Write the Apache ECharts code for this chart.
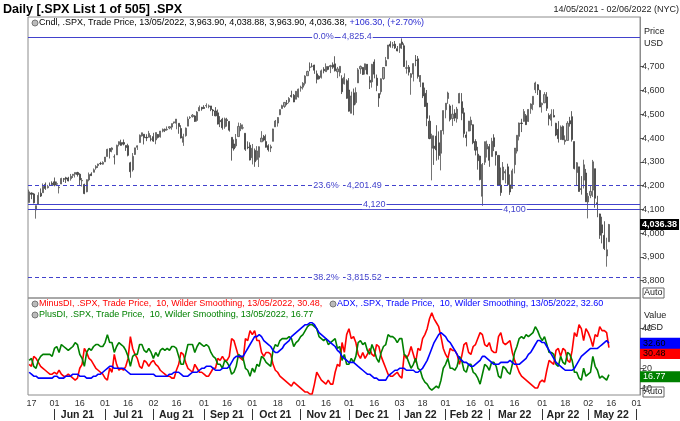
<!DOCTYPE html>
<html><head><meta charset="utf-8">
<script src="https://cdn.jsdelivr.net/npm/echarts@6/dist/echarts.min.js"></script>
<style>html,body{margin:0;padding:0;background:#fff}#c{width:680px;height:421px}</style>
</head><body><div id="c"></div><script>
// ---- trading calendar (NYSE) ----
const holidays = ['2021-05-31','2021-07-05','2021-09-06','2021-11-25','2021-12-24','2022-01-17','2022-02-21','2022-04-15','2022-05-30'];
const dates = [];
for (let t = Date.UTC(2021,4,14); t <= Date.UTC(2022,5,2); t += 86400000) {
  const d = new Date(t), wd = d.getUTCDay(), s = d.toISOString().slice(0,10);
  if (wd !== 0 && wd !== 6 && holidays.indexOf(s) < 0) dates.push(s);
}
// ---- SPX daily [open, high, low, close] ----
const may21 = [[4129,4183,4129,4173.85],[4169,4171,4143,4163.29],[4165,4169,4125,4127.83],[4098,4116,4061,4115.68],[4121,4172,4121,4159.12],[4168,4188,4152,4155.86],[4170,4209,4170,4197.05],[4205,4213,4182,4188.13],[4191,4203,4188,4195.99],[4201,4213,4198,4200.88],[4210,4218,4203,4204.11]];
const jun21 = [[4216,4234,4197,4202.04],[4206,4217,4198,4208.12],[4191,4198,4167,4192.85],[4207,4233,4206,4229.89],[4229,4232,4215,4226.52],[4233,4237,4211,4227.26],[4232,4237,4218,4219.55],[4229,4249,4221,4239.18],[4243,4249,4232,4247.44],[4248,4255,4234,4255.15],[4255,4258,4238,4246.59],[4248,4252,4202,4223.70],[4220,4232,4196,4221.86],[4205,4208,4164,4166.45],[4174,4226,4172,4224.79],[4224,4255,4218,4246.44],[4249,4256,4241,4241.84],[4256,4272,4256,4266.49],[4274,4286,4267,4280.70],[4284,4292,4274,4290.61],[4293,4300,4287,4291.80],[4290,4302,4288,4297.50]];
const jul21 = [[4300,4320,4300,4319.94],[4322,4355,4322,4352.34],[4356,4357,4314,4343.54],[4351,4361,4340,4358.13],[4321,4331,4289,4320.82],[4329,4372,4329,4369.55],[4373,4386,4365,4384.63],[4381,4393,4368,4369.21],[4381,4394,4369,4374.30],[4369,4369,4346,4360.03],[4368,4376,4323,4327.16],[4296,4300,4233,4258.49],[4266,4337,4259,4323.06],[4331,4359,4329,4358.69],[4361,4369,4350,4367.48],[4381,4415,4381,4411.79],[4409,4422,4406,4422.30],[4416,4416,4373,4401.46],[4403,4416,4387,4400.64],[4403,4430,4403,4419.15],[4396,4412,4386,4395.26]];
const aug21 = [[4406,4422,4384,4387.16],[4392,4423,4374,4423.15],[4415,4417,4398,4402.66],[4405,4430,4402,4429.10],[4429,4440,4424,4436.52],[4437,4440,4425,4432.35],[4435,4449,4431,4436.75],[4442,4449,4437,4447.70],[4446,4461,4435,4460.83],[4464,4468,4460,4468.00],[4462,4480,4437,4479.71],[4462,4462,4418,4448.08],[4440,4454,4398,4400.27],[4382,4418,4367,4405.80],[4410,4444,4406,4441.67],[4450,4490,4450,4479.53],[4485,4492,4480,4486.23],[4490,4501,4486,4496.19],[4493,4496,4468,4470.00],[4474,4513,4469,4509.37],[4514,4537,4514,4528.79],[4529,4531,4515,4522.68]];
const sep21 = [[4529,4538,4522,4524.09],[4535,4546,4527,4536.95],[4532,4541,4525,4535.43],[4535,4535,4513,4520.03],[4518,4522,4493,4514.07],[4514,4530,4492,4493.28],[4506,4520,4457,4458.58],[4474,4492,4446,4468.73],[4479,4485,4435,4443.05],[4447,4486,4439,4480.70],[4477,4485,4448,4473.75],[4470,4471,4427,4432.99],[4403,4403,4305,4357.73],[4375,4394,4347,4354.19],[4367,4417,4359,4395.64],[4406,4465,4406,4448.98],[4439,4463,4429,4455.48],[4442,4457,4436,4443.11],[4420,4420,4346,4352.63],[4362,4386,4353,4359.46],[4370,4382,4306,4307.54]];
const oct21 = [[4317,4375,4289,4357.04],[4348,4356,4279,4300.46],[4310,4366,4305,4345.72],[4319,4365,4278,4363.55],[4384,4429,4384,4399.76],[4407,4413,4386,4391.34],[4385,4415,4360,4361.19],[4368,4374,4343,4350.65],[4358,4372,4341,4363.80],[4386,4439,4386,4438.26],[4447,4476,4447,4471.37],[4463,4488,4448,4486.46],[4498,4520,4496,4519.63],[4524,4540,4524,4536.19],[4533,4549,4527,4549.78],[4546,4560,4538,4544.90],[4553,4572,4546,4566.48],[4579,4599,4570,4574.79],[4580,4585,4551,4551.68],[4563,4598,4563,4596.42],[4573,4608,4570,4605.38]];
const nov21 = [[4610,4620,4595,4613.67],[4614,4635,4604,4630.65],[4630,4664,4621,4660.57],[4662,4683,4662,4680.06],[4699,4718,4681,4697.53],[4702,4715,4697,4701.70],[4707,4708,4670,4685.25],[4670,4684,4630,4646.71],[4660,4664,4646,4649.27],[4655,4688,4650,4682.85],[4689,4698,4672,4682.80],[4679,4714,4679,4700.90],[4701,4701,4685,4688.67],[4700,4708,4673,4704.54],[4708,4718,4691,4697.96],[4712,4744,4680,4682.94],[4679,4699,4652,4690.70],[4675,4702,4659,4701.46],[4650,4664,4585,4594.62],[4628,4672,4625,4655.27],[4641,4647,4565,4567.00]];
const dec21 = [[4602,4652,4511,4513.04],[4504,4595,4504,4577.10],[4590,4608,4496,4538.43],[4549,4613,4541,4591.67],[4632,4694,4632,4686.75],[4691,4705,4670,4701.21],[4697,4698,4665,4667.45],[4687,4713,4667,4712.02],[4710,4711,4667,4668.97],[4643,4660,4606,4634.09],[4636,4712,4612,4709.85],[4720,4731,4651,4668.67],[4652,4667,4597,4620.64],[4587,4587,4531,4568.02],[4595,4651,4583,4649.23],[4650,4698,4645,4696.56],[4703,4741,4703,4725.79],[4733,4791,4733,4791.19],[4795,4807,4780,4786.35],[4788,4804,4778,4793.06],[4795,4808,4775,4778.73],[4776,4787,4765,4766.18]];
const jan22 = [[4778,4797,4758,4796.56],[4804,4819,4775,4793.54],[4788,4798,4699,4700.58],[4693,4726,4671,4696.05],[4698,4707,4663,4677.03],[4655,4673,4582,4670.29],[4669,4714,4638,4713.07],[4728,4749,4702,4726.35],[4733,4745,4650,4659.03],[4637,4665,4614,4662.85],[4632,4632,4568,4577.11],[4588,4612,4531,4532.76],[4547,4602,4450,4482.73],[4471,4495,4395,4397.94],[4357,4418,4222,4410.13],[4366,4411,4287,4356.45],[4408,4454,4305,4349.93],[4380,4428,4309,4326.51],[4336,4432,4264,4431.85],[4431,4516,4415,4515.55]];
const feb22 = [[4519,4547,4483,4546.54],[4566,4595,4544,4589.38],[4535,4542,4470,4477.44],[4482,4540,4451,4500.53],[4505,4521,4471,4483.87],[4481,4531,4465,4521.54],[4547,4590,4547,4587.18],[4553,4589,4475,4504.08],[4506,4527,4402,4418.64],[4413,4427,4365,4401.67],[4429,4472,4429,4471.07],[4455,4490,4429,4475.01],[4456,4457,4374,4380.26],[4385,4395,4327,4348.87],[4332,4363,4267,4304.76],[4324,4326,4222,4225.50],[4155,4295,4115,4288.70],[4298,4385,4287,4384.65],[4354,4389,4318,4373.94]];
const mar22 = [[4364,4375,4279,4306.26],[4322,4401,4322,4386.54],[4401,4416,4345,4363.49],[4343,4343,4284,4328.87],[4327,4327,4199,4201.09],[4202,4276,4157,4170.70],[4224,4299,4224,4277.88],[4253,4268,4209,4259.52],[4279,4292,4202,4204.31],[4203,4247,4161,4173.11],[4188,4271,4187,4262.45],[4288,4358,4251,4357.86],[4345,4412,4335,4411.67],[4407,4465,4390,4463.12],[4463,4481,4425,4461.18],[4470,4522,4469,4511.61],[4494,4501,4455,4456.24],[4470,4521,4468,4520.16],[4523,4546,4502,4543.06],[4541,4575,4517,4575.52],[4603,4637,4589,4631.60],[4624,4627,4581,4602.45],[4600,4603,4530,4530.41]];
const apr22 = [[4540,4549,4507,4545.86],[4548,4593,4547,4582.64],[4573,4593,4514,4525.12],[4495,4504,4453,4481.15],[4475,4521,4450,4500.21],[4495,4521,4487,4488.28],[4462,4464,4408,4412.53],[4437,4471,4381,4397.45],[4394,4453,4392,4446.59],[4449,4453,4392,4392.59],[4385,4411,4372,4391.69],[4390,4471,4390,4462.21],[4473,4489,4448,4459.45],[4490,4513,4385,4393.66],[4385,4386,4268,4271.78],[4255,4299,4200,4296.12],[4279,4279,4175,4175.20],[4187,4240,4162,4183.96],[4223,4309,4188,4287.50],[4253,4270,4131,4131.93]];
const may22 = [[4131,4169,4062,4155.38],[4159,4200,4147,4175.48],[4181,4308,4152,4300.17],[4271,4271,4107,4146.87],[4128,4157,4067,4123.34],[4081,4082,3976,3991.24],[4035,4069,3957,4001.05],[3991,4050,3929,3935.18],[3904,3981,3859,3930.08],[3963.90,4038.88,3963.90,4036.38]];
// ---- DMI (10, Wilder), per month ----
const minusDI = [
 [22,21,26,25,23,21,20,19,18,17,17],
 [18,17,19,17,16,16,17,16,15,14,15,20,22,30,28,25,24,22,20,19,18,17],
 [15,14,20,18,27,22,19,20,19,21,25,36,30,27,25,21,20,24,23,21,23],
 [24,22,21,19,18,17,16,16,15,15,19,22,28,27,23,20,19,18,22,20,18,18],
 [17,16,16,18,20,20,25,24,26,24,24,26,35,34,30,26,25,24,35,34,39],
 [37,39,34,34,28,26,28,28,27,22,19,18,16,15,14,13,12,11,13,12,11],
 [10,9,8,8,7,7,12,18,16,14,13,12,14,12,12,18,22,21,33,28,37],
 [40,35,36,33,27,25,28,25,27,30,27,26,32,31,26,23,20,17,16,16,17,18],
 [16,15,27,25,27,31,27,23,30,29,35,37,40,45,48,45,43,41,36,30],
 [27,25,30,29,29,27,22,26,32,33,28,27,31,32,35,38,37,32,31],
 [33,29,28,28,36,38,33,32,33,34,28,24,21,18,16,15,14,13,12,11,10,10,13],
 [14,13,19,24,23,22,29,30,26,30,29,24,23,29,38,36,42,40,34,40],
 [38,35,31,37,36,41,39,39,38,30.48]];
const plusDI = [
 [24,25,21,20,24,26,27,27,27,27,26],
 [30,31,28,32,31,30,29,30,31,33,32,27,25,21,28,30,29,31,32,32,31,31],
 [33,37,33,33,28,31,33,32,31,29,26,21,26,27,27,32,32,29,28,30,28],
 [25,28,26,29,30,29,30,29,31,31,30,26,22,22,27,32,32,32,28,31,33,32],
 [31,32,31,28,26,25,22,22,20,24,23,21,17,18,21,27,26,25,20,19,16],
 [20,18,22,21,26,25,23,22,21,29,32,31,34,35,35,35,36,35,31,33,34],
 [36,37,39,41,42,42,41,40,36,35,34,35,32,33,34,35,30,31,24,27,22],
 [22,25,23,26,33,34,32,33,29,27,32,29,25,23,28,31,32,37,36,36,35,33],
 [35,35,27,26,23,20,22,25,20,19,15,13,12,10,9,10,11,10,14,20],
 [22,25,20,20,19,21,26,24,19,18,22,22,18,17,15,12,17,22,21],
 [19,23,23,21,16,15,21,20,18,17,22,28,31,35,36,35,37,36,37,38,41,39,36],
 [34,36,32,28,28,27,22,21,26,23,22,28,27,24,18,18,15,14,20,16],
 [17,18,26,21,19,15,16,15,14,16.77]];
const adx = [
 [18,17,16,16,15,15,15,15,15,15,15],
 [16,16,15,15,15,16,16,16,17,17,17,16,16,16,15,15,15,16,16,17,17,18],
 [19,20,21,21,20,20,20,20,20,19,18,17,17,17,17,17,17,17,17,17,17],
 [17,16,16,16,16,16,16,17,17,18,18,18,17,16,16,16,17,18,18,18,19,20],
 [20,21,21,21,20,19,19,19,20,20,20,21,23,25,26,26,26,26,28,30,32],
 [34,36,36,37,36,34,33,32,31,29,28,28,29,30,32,33,34,36,37,38,39],
 [40,41,42,42,43,43,42,40,38,37,36,35,34,33,32,31,29,28,26,25,24],
 [23,23,23,22,21,20,19,18,17,17,16,15,15,14,14,14,14,16,17,18,19,19],
 [20,20,20,19,19,19,19,18,18,19,20,22,24,27,30,33,35,37,38,37],
 [36,34,33,31,29,27,25,24,23,23,22,21,21,22,23,24,26,26,25],
 [24,23,22,22,22,23,23,23,23,24,23,22,22,22,23,24,25,27,28,30,32,34,34],
 [33,33,31,29,27,25,23,22,21,20,19,19,19,19,20,22,24,26,27,28],
 [29,30,30,30,30,31,32,33,34,32.6]];
// ---- reference levels ----
const fibPct = ['0.0%','23.6%','38.2%'];
const fibValues = [4825.4, 4201.49, 3815.52];
const fibLabels = ['4,825.4','4,201.49','3,815.52'];
const levelValues = [4120, 4100];
const levelLabelDates = ['2021-12-16','2022-03-16'];
const fibLabelDate = '2021-11-08';
const lastPrice = 4036.38;
const priceTicks = [3800,3900,4000,4100,4200,4300,4400,4500,4600,4700];
const valueTicks = [10,20,30,40];

const ohlc = [].concat(may21,jun21,jul21,aug21,sep21,oct21,nov21,dec21,jan22,feb22,mar22,apr22,may22);
const candle = ohlc.map(r => [r[0], r[3], r[2], r[1]]);
const flat = a => [].concat.apply([], a);
const mdi = flat(minusDI), pdi = flat(plusDI), adxv = flat(adx);

const comma = v => { const p = String(v).split('.'); p[0] = p[0].replace(/\B(?=(\d{3})+(?!\d))/g, ','); return p.join('.'); };
const MON = ['Jan','Feb','Mar','Apr','May','Jun','Jul','Aug','Sep','Oct','Nov','Dec'];
const dayIdx = new Set(), monthStart = new Set(), monthMid = new Set();
let segStart = 0;
for (let i = 1; i <= dates.length; i++) {
  const newMonth = i === dates.length || dates[i].slice(0,7) !== dates[i-1].slice(0,7);
  if (newMonth) {
    if (i - segStart >= 15) monthMid.add(Math.floor((segStart + i - 1) / 2));
    segStart = i;
    if (i < dates.length) { monthStart.add(i); dayIdx.add(i); }
  } else if (+dates[i].slice(8) >= 16 && +dates[i-1].slice(8) < 16) dayIdx.add(i);
}
const F = 'Arial, "Liberation Sans", sans-serif';
const BLUE = '#4242cc';
const NONE = 'rgba(0,0,0,0)';

const fibMarkLines = fibValues.map((v,i) => ({yAxis: v, lineStyle: {color: BLUE, width: 1, type: i === 0 ? 'solid' : [4,3]}}))
  .concat(levelValues.map(v => ({yAxis: v, lineStyle: {color: BLUE, width: 1, type: 'solid'}})))
  .concat([{yAxis: lastPrice, lineStyle: {color: NONE},
    label: {show: true, position: 'end', distance: 0, opacity: 1, formatter: comma(lastPrice), backgroundColor: '#000', color: '#fff', fontWeight: 'bold', fontSize: 9, fontFamily: F, padding: [1,2]}}]);
const rich = {a: {backgroundColor: '#fff', color: BLUE, fontSize: 9, fontFamily: F, padding: [0,1]}, g: {width: 6}};
const fibPoints = fibValues.map((v,i) => ({coord: [fibLabelDate, v], label: {formatter: '{a|' + fibPct[i] + '}{g|}{a|' + fibLabels[i] + '}', rich}}))
  .concat(levelValues.map((v,i) => ({coord: [levelLabelDates[i], v], label: {formatter: '{a|' + comma(v) + '}', rich, position: 'inside'}})));
const valueBox = (txt, bg, fg, dy, v) => ({silent: true, symbol: 'none', lineStyle: {color: NONE},
  label: {show: true, position: 'end', distance: 0, opacity: 1, formatter: txt, backgroundColor: bg, color: fg, fontSize: 9, fontFamily: F, padding: [1,3], width: 34, offset: [0, dy]},
  data: [{yAxis: v}]});

const chart = echarts.init(document.getElementById('c'), null, {renderer: 'canvas'});
chart.setOption({
  animation: false,
  backgroundColor: '#fff',
  grid: [
    {left: 28, right: 40, top: 17, height: 281, show: true, borderColor: '#8c8c8c', borderWidth: 1},
    {left: 28, right: 40, top: 298, height: 98, show: true, borderColor: '#8c8c8c', borderWidth: 1}
  ],
  xAxis: [
    {type: 'category', data: dates, gridIndex: 0, axisLine: {show: false}, axisTick: {show: false}, axisLabel: {show: false}},
    {type: 'category', data: dates, gridIndex: 1, axisLine: {show: false}, axisTick: {show: false},
     axisLabel: {interval: (i) => dayIdx.has(i) || i === 1, formatter: v => v.slice(8), fontSize: 9, color: '#333', fontFamily: F, margin: 4, hideOverlap: false}},
    {type: 'category', data: dates, gridIndex: 1, position: 'bottom', offset: 14, axisLine: {show: false},
     axisTick: {show: true, alignWithLabel: true, interval: (i) => monthStart.has(i), length: 11, lineStyle: {color: '#333', width: 1}},
     axisLabel: {interval: (i) => monthMid.has(i), formatter: v => MON[+v.slice(5,7)-1] + ' ' + v.slice(2,4), fontSize: 10.5, fontWeight: 'bold', color: '#222', fontFamily: F, margin: 1, hideOverlap: false}}
  ],
  yAxis: [
    {type: 'value', gridIndex: 0, position: 'right', min: 3727.3, max: 4909, splitLine: {show: false},
     axisLine: {show: true, lineStyle: {color: '#8c8c8c'}},
     axisTick: {show: true, length: 4, lineStyle: {color: '#555'}, customValues: priceTicks},
     axisLabel: {customValues: priceTicks, formatter: v => comma(v), fontSize: 9, color: '#333', fontFamily: F, margin: 2}},
    {type: 'value', gridIndex: 1, position: 'right', min: 6.5, max: 55.5, splitLine: {show: false},
     axisLine: {show: true, lineStyle: {color: '#8c8c8c'}},
     axisTick: {show: true, length: 4, lineStyle: {color: '#555'}, customValues: valueTicks},
     axisLabel: {customValues: valueTicks, fontSize: 9, color: '#333', fontFamily: F, margin: 2}}
  ],
  series: [
    {type: 'candlestick', xAxisIndex: 0, yAxisIndex: 0, data: candle, barWidth: 1.6, clip: false,
     itemStyle: {color: '#a6a6a6', color0: '#5a5a5a', borderColor: '#505050', borderColor0: '#3a3a3a', borderWidth: 0.8},
     markLine: {silent: true, symbol: 'none', label: {show: false}, data: fibMarkLines},
     markPoint: {silent: true, symbol: 'rect', symbolSize: 0, label: {show: true, position: 'right', distance: 0}, data: fibPoints}},
    {type: 'line', name: 'MinusDI', xAxisIndex: 1, yAxisIndex: 1, data: mdi, clip: false, showSymbol: false, lineStyle: {color: '#ff0000', width: 1.6}, itemStyle: {color: '#ff0000'},
     markLine: valueBox('30.48', '#ff0000', '#000', 6, mdi[mdi.length-1])},
    {type: 'line', name: 'PlusDI', xAxisIndex: 1, yAxisIndex: 1, data: pdi, clip: false, showSymbol: false, lineStyle: {color: '#008000', width: 1.6}, itemStyle: {color: '#008000'},
     markLine: valueBox('16.77', '#008000', '#fff', 2, pdi[pdi.length-1])},
    {type: 'line', name: 'ADX', xAxisIndex: 1, yAxisIndex: 1, data: adxv, clip: false, showSymbol: false, lineStyle: {color: '#0000ff', width: 1.6}, itemStyle: {color: '#0000ff'},
     markLine: valueBox('32.60', '#0000ff', '#000', 0, adxv[adxv.length-1])}
  ],
  graphic: [
    {type: 'text', left: 3, top: 3, style: {text: 'Daily [.SPX List 1 of 505] .SPX', font: 'bold 12.6px ' + F, fill: '#000'}},
    {type: 'text', right: 1, top: 5, style: {text: '14/05/2021 - 02/06/2022 (NYC)', font: '9px ' + F, fill: '#222'}},
    {type: 'circle', shape: {cx: 35, cy: 23, r: 3}, style: {fill: '#bbb', stroke: '#777'}},
    {type: 'text', left: 39, top: 18, style: {text: '{k|Cndl, .SPX, Trade Price, 13/05/2022, 3,963.90, 4,038.88, 3,963.90, 4,036.38, }{b|+106.30, (+2.70%)}', font: '9px ' + F, rich: {k: {fill: '#000', font: '9px ' + F}, b: {fill: '#2b2bd0', font: '9px ' + F}}}},
    {type: 'text', left: 644, top: 27, style: {text: 'Price', font: '9px ' + F, fill: '#222'}},
    {type: 'text', left: 644, top: 39, style: {text: 'USD', font: '9px ' + F, fill: '#222'}},
    {type: 'rect', shape: {x: 643, y: 288, width: 21, height: 10}, style: {fill: '#fff', stroke: '#666'}},
    {type: 'text', left: 644, top: 288, style: {text: 'Auto', font: '9px ' + F, fill: '#222'}},
    {type: 'circle', shape: {cx: 35, cy: 304, r: 3}, style: {fill: '#bbb', stroke: '#777'}},
    {type: 'text', left: 39, top: 299, style: {text: 'MinusDI, .SPX, Trade Price,  10, Wilder Smoothing, 13/05/2022, 30.48,', font: '9px ' + F, fill: '#ff0000'}},
    {type: 'circle', shape: {cx: 333, cy: 304, r: 3}, style: {fill: '#bbb', stroke: '#777'}},
    {type: 'text', left: 337, top: 299, style: {text: 'ADX, .SPX, Trade Price,  10, Wilder Smoothing, 13/05/2022, 32.60', font: '9px ' + F, fill: '#0000ff'}},
    {type: 'circle', shape: {cx: 35, cy: 315, r: 3}, style: {fill: '#bbb', stroke: '#777'}},
    {type: 'text', left: 39, top: 310, style: {text: 'PlusDI, .SPX, Trade Price,  10, Wilder Smoothing, 13/05/2022, 16.77', font: '9px ' + F, fill: '#008000'}},
    {type: 'text', left: 644, top: 311, style: {text: 'Value', font: '9px ' + F, fill: '#222'}},
    {type: 'text', left: 644, top: 323, style: {text: 'USD', font: '9px ' + F, fill: '#222'}},
    {type: 'rect', shape: {x: 643, y: 387, width: 21, height: 10}, style: {fill: '#fff', stroke: '#666'}},
    {type: 'text', left: 644, top: 387, style: {text: 'Auto', font: '9px ' + F, fill: '#222'}}
  ]
});
</script></body></html>
